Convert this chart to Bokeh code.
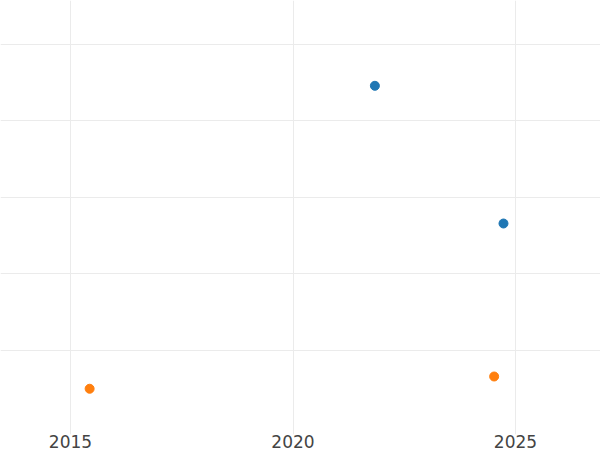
from bokeh.plotting import figure
from bokeh.models import FixedTicker, Range1d
from bokeh.embed import file_html
from bokeh.resources import INLINE

# data
blue_x = [2021.84, 2024.73]
blue_y = [3.46, 1.66]
orange_x = [2015.43, 2024.52]
orange_y = [-0.50, -0.34]
x_ticks = [2015, 2020, 2025]
y_ticks = [0, 1, 2, 3, 4]

p = figure(width=600, height=450, output_backend="svg", toolbar_location=None,
           x_range=Range1d(2013.427, 2026.91), y_range=Range1d(-1.098, 4.575),
           min_border_left=0, min_border_right=0, min_border_top=0, min_border_bottom=0)
p.outline_line_color = None
p.background_fill_color = "white"

p.scatter(blue_x, blue_y, size=9, color="#1f77b4")
p.scatter(orange_x, orange_y, size=9, color="#ff7f0e")

p.xaxis.ticker = FixedTicker(ticks=x_ticks)
p.yaxis.ticker = FixedTicker(ticks=y_ticks)
p.yaxis.visible = False
p.xaxis.axis_line_color = None
p.xaxis.major_tick_line_color = None
p.xaxis.minor_tick_line_color = None
p.xaxis.major_label_text_font = "DejaVu Sans"
p.xaxis.major_label_text_font_size = "17px"
p.xaxis.major_label_text_color = "#444444"
p.xaxis.major_label_standoff = 0
p.xaxis.major_tick_out = 0
p.xaxis.major_tick_in = 0

p.xgrid.grid_line_color = "#ebebeb"
p.ygrid.grid_line_color = "#ebebeb"
p.xgrid.ticker = FixedTicker(ticks=x_ticks)
p.ygrid.ticker = FixedTicker(ticks=y_ticks)

open("out.html", "w").write(file_html(p, INLINE))
